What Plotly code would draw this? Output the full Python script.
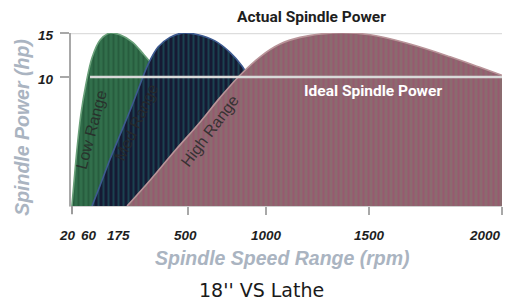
import numpy as np
import plotly.graph_objects as go

# ---- data ----
tick_rpm = [20, 60, 175, 500, 1000, 1500, 2000]
tick_text = ["20", "60", "175", "500", "1000", "1500", "2000"]
y_tick_hp = [15, 10]

low_rpm = [22, 27, 33, 42, 53, 72, 104, 143, 184, 240, 286, 324, 361, 463]
low_hp = [0, 2.0, 4.3, 7.1, 9.4, 12.2, 14.2, 15, 14.8, 14.0, 12.8, 11.7, 10.2, 0]

med_rpm = [72, 104, 143, 184, 231, 277, 314, 361, 416, 477, 564, 673, 769, 846, 897, 974, 1019]
med_hp = [0, 1.6, 3.6, 5.5, 7.4, 9.4, 11.4, 13.4, 14.5, 15, 14.8, 14.1, 12.8, 11.25, 9.8, 5.9, 0]

high_rpm = [217, 324, 440, 577, 705, 833, 962, 1068, 1165, 1325, 1505, 1654, 1805, 1917, 2000]
high_hp = [0, 2.0, 4.3, 6.5, 8.4, 10.2, 12.3, 13.75, 14.5, 15, 14.8, 13.75, 12.3, 11.1, 10.2]

ideal_hp = 10
actual_hp = 15

# ---- the chart's own (non-linear) scales ----
X_ANCHOR_RPM = [20, 60, 175, 500, 1000, 1500, 2000]
X_ANCHOR_POS = [0, 18, 47, 117, 195, 298, 431]
Y_ANCHOR_HP = [0, 10, 15]
Y_ANCHOR_POS = [0, 129, 173]


def xs(v):
    return np.interp(v, X_ANCHOR_RPM, X_ANCHOR_POS)


def ys(v):
    return np.interp(v, Y_ANCHOR_HP, Y_ANCHOR_POS)


fig = go.Figure()

series = [
    (low_rpm, low_hp, "#316f4b", "#1d4c31", "#6aa07a"),
    (med_rpm, med_hp, "#161a34", "#1f6a6c", "#3d5a90"),
    (high_rpm, high_hp, "#8b6b6f", "#a3476f", "#b99499"),
]
for r, h, bg, fg, edge in series:
    fig.add_trace(go.Scatter(
        x=xs(r), y=ys(h), mode="lines", fill="tozeroy",
        line=dict(color=edge, width=1.6, shape="spline", smoothing=1.0),
        fillcolor=bg,
        fillpattern=dict(shape="|", bgcolor=bg, fgcolor=fg, size=5, solidity=0.4),
        hoverinfo="skip", showlegend=False,
    ))

shapes = [
    dict(type="line", xref="x", yref="y", x0=0, x1=431, y0=ys(actual_hp), y1=ys(actual_hp),
         line=dict(color="#dddddd", width=2.5), layer="below"),
    dict(type="line", xref="x", yref="y", x0=xs(64), x1=431, y0=ys(ideal_hp), y1=ys(ideal_hp),
         line=dict(color="#d9d9d9", width=2.5), layer="above"),
    dict(type="line", xref="x", yref="paper", x0=xs(20), x1=xs(20), y0=0, y1=-0.048,
         line=dict(color="#9c9c9c", width=4)),
]

ann = []
fx = dict(family="Liberation Sans", size=13.5, color="#1e1e1e", weight="bold", style="italic")
xoff = {"20": -4, "60": 0, "175": 0, "500": -3, "1000": 0, "1500": 0, "2000": -17}
for rv, t in zip(tick_rpm, tick_text):
    ann.append(dict(x=xs(rv), y=-0.168, xref="x", yref="paper", text=t, showarrow=False,
                    xanchor="center", yanchor="middle", font=fx, xshift=xoff[t]))
for hv in y_tick_hp:
    ann.append(dict(x=-0.035, y=ys(hv), xref="paper", yref="y", text=str(hv), showarrow=False,
                    xanchor="right", yanchor="middle", yshift=-2, font=fx))


def label(x, y, text, font, angle=0):
    return dict(x=x, y=y, xref="paper", yref="paper", text=text, textangle=angle,
                showarrow=False, xanchor="center", yanchor="middle", font=font)


lab = dict(family="Liberation Sans", size=16, color="rgba(40,40,40,0.85)")
axt = dict(family="Liberation Sans", size=19.5, color="#aab4c1", weight="bold", style="italic")
ann += [
    label(0.0464, 0.445, "Low Range", lab, -75),
    label(0.153, 0.486, "Med Range", lab, -65),
    label(0.3225, 0.439, "High Range", lab, -53),
    label(0.559, 1.092, "Actual Spindle Power",
          dict(family="Roboto", size=15.5, color="#1e1e1e", weight="bold")),
    label(0.7007, 0.665, "Ideal Spindle Power",
          dict(family="Roboto", size=15.5, color="#ffffff", weight="bold")),
    label(-0.114, 0.457, "Spindle Power (hp)", axt, -90),
    label(0.4896, -0.30, "Spindle Speed Range (rpm)", axt),
    label(0.443, -0.486, "18'' VS Lathe", dict(family="DejaVu Sans", size=19, color="#1a1a1a")),
]

fig.update_layout(
    width=509, height=303,
    margin=dict(l=71, r=7, t=33, b=97),
    paper_bgcolor="white", plot_bgcolor="white",
    shapes=shapes, annotations=ann,
    xaxis=dict(range=[0, 431], showgrid=False, zeroline=False, showline=True,
               linecolor="#cfcfcf", linewidth=1,
               tickvals=list(xs([500, 1000, 1500, 2000])), showticklabels=False,
               ticks="outside", ticklen=8, tickwidth=1.5, tickcolor="#a8a8a8", fixedrange=True),
    yaxis=dict(range=[0, 173], showgrid=False, zeroline=False, showline=True,
               linecolor="#a8a8a8", linewidth=1.5,
               tickvals=list(ys(y_tick_hp)), showticklabels=False,
               ticks="outside", ticklen=9, tickwidth=1.5, tickcolor="#a8a8a8", fixedrange=True),
)

fig.write_html("out.html", config={"displayModeBar": False},
               post_script="document.body.style.margin='0';document.body.style.overflow='hidden';")
